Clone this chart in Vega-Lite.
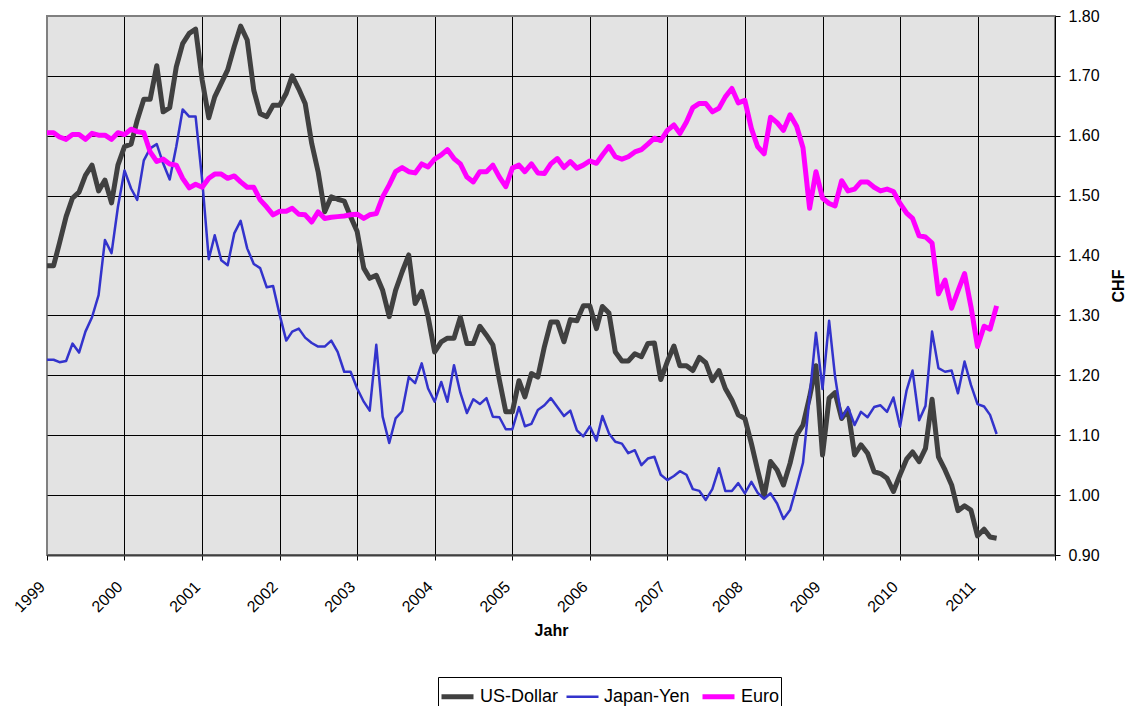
{
"$schema": "https://vega.github.io/schema/vega-lite/v6.json",
"width": 1008, "height": 539,
"autosize": {"type": "none"},
"padding": {"left": 47, "top": 16, "right": 75, "bottom": 151},
"background": "white",
"config": {"font": "Liberation Sans", "view": {"fill": "#E3E3E3", "stroke": "#808080", "strokeWidth": 2}},
"data": {"values": [
{"d":"1999-01-01","c":"US-Dollar","v":1.383},{"d":"1999-02-01","c":"US-Dollar","v":1.383},{"d":"1999-03-01","c":"US-Dollar","v":1.421},{"d":"1999-04-01","c":"US-Dollar","v":1.465},{"d":"1999-05-01","c":"US-Dollar","v":1.496},{"d":"1999-06-01","c":"US-Dollar","v":1.506},{"d":"1999-07-01","c":"US-Dollar","v":1.534},{"d":"1999-08-01","c":"US-Dollar","v":1.551},{"d":"1999-09-01","c":"US-Dollar","v":1.508},{"d":"1999-10-01","c":"US-Dollar","v":1.526},{"d":"1999-11-01","c":"US-Dollar","v":1.488},{"d":"1999-12-01","c":"US-Dollar","v":1.551},
{"d":"2000-01-01","c":"US-Dollar","v":1.582},{"d":"2000-02-01","c":"US-Dollar","v":1.586},{"d":"2000-03-01","c":"US-Dollar","v":1.626},{"d":"2000-04-01","c":"US-Dollar","v":1.661},{"d":"2000-05-01","c":"US-Dollar","v":1.661},{"d":"2000-06-01","c":"US-Dollar","v":1.717},{"d":"2000-07-01","c":"US-Dollar","v":1.640},{"d":"2000-08-01","c":"US-Dollar","v":1.647},{"d":"2000-09-01","c":"US-Dollar","v":1.715},{"d":"2000-10-01","c":"US-Dollar","v":1.754},{"d":"2000-11-01","c":"US-Dollar","v":1.771},{"d":"2000-12-01","c":"US-Dollar","v":1.778},
{"d":"2001-01-01","c":"US-Dollar","v":1.693},{"d":"2001-02-01","c":"US-Dollar","v":1.630},{"d":"2001-03-01","c":"US-Dollar","v":1.665},{"d":"2001-04-01","c":"US-Dollar","v":1.688},{"d":"2001-05-01","c":"US-Dollar","v":1.710},{"d":"2001-06-01","c":"US-Dollar","v":1.749},{"d":"2001-07-01","c":"US-Dollar","v":1.783},{"d":"2001-08-01","c":"US-Dollar","v":1.760},{"d":"2001-09-01","c":"US-Dollar","v":1.676},{"d":"2001-10-01","c":"US-Dollar","v":1.637},{"d":"2001-11-01","c":"US-Dollar","v":1.632},{"d":"2001-12-01","c":"US-Dollar","v":1.651},
{"d":"2002-01-01","c":"US-Dollar","v":1.651},{"d":"2002-02-01","c":"US-Dollar","v":1.671},{"d":"2002-03-01","c":"US-Dollar","v":1.700},{"d":"2002-04-01","c":"US-Dollar","v":1.678},{"d":"2002-05-01","c":"US-Dollar","v":1.654},{"d":"2002-06-01","c":"US-Dollar","v":1.587},{"d":"2002-07-01","c":"US-Dollar","v":1.540},{"d":"2002-08-01","c":"US-Dollar","v":1.473},{"d":"2002-09-01","c":"US-Dollar","v":1.498},{"d":"2002-10-01","c":"US-Dollar","v":1.494},{"d":"2002-11-01","c":"US-Dollar","v":1.491},{"d":"2002-12-01","c":"US-Dollar","v":1.465},
{"d":"2003-01-01","c":"US-Dollar","v":1.440},{"d":"2003-02-01","c":"US-Dollar","v":1.379},{"d":"2003-03-01","c":"US-Dollar","v":1.362},{"d":"2003-04-01","c":"US-Dollar","v":1.367},{"d":"2003-05-01","c":"US-Dollar","v":1.342},{"d":"2003-06-01","c":"US-Dollar","v":1.298},{"d":"2003-07-01","c":"US-Dollar","v":1.342},{"d":"2003-08-01","c":"US-Dollar","v":1.373},{"d":"2003-09-01","c":"US-Dollar","v":1.401},{"d":"2003-10-01","c":"US-Dollar","v":1.320},{"d":"2003-11-01","c":"US-Dollar","v":1.340},{"d":"2003-12-01","c":"US-Dollar","v":1.298},
{"d":"2004-01-01","c":"US-Dollar","v":1.239},{"d":"2004-02-01","c":"US-Dollar","v":1.256},{"d":"2004-03-01","c":"US-Dollar","v":1.262},{"d":"2004-04-01","c":"US-Dollar","v":1.262},{"d":"2004-05-01","c":"US-Dollar","v":1.297},{"d":"2004-06-01","c":"US-Dollar","v":1.253},{"d":"2004-07-01","c":"US-Dollar","v":1.253},{"d":"2004-08-01","c":"US-Dollar","v":1.282},{"d":"2004-09-01","c":"US-Dollar","v":1.267},{"d":"2004-10-01","c":"US-Dollar","v":1.251},{"d":"2004-11-01","c":"US-Dollar","v":1.192},{"d":"2004-12-01","c":"US-Dollar","v":1.139},
{"d":"2005-01-01","c":"US-Dollar","v":1.139},{"d":"2005-02-01","c":"US-Dollar","v":1.191},{"d":"2005-03-01","c":"US-Dollar","v":1.164},{"d":"2005-04-01","c":"US-Dollar","v":1.203},{"d":"2005-05-01","c":"US-Dollar","v":1.197},{"d":"2005-06-01","c":"US-Dollar","v":1.248},{"d":"2005-07-01","c":"US-Dollar","v":1.289},{"d":"2005-08-01","c":"US-Dollar","v":1.289},{"d":"2005-09-01","c":"US-Dollar","v":1.256},{"d":"2005-10-01","c":"US-Dollar","v":1.293},{"d":"2005-11-01","c":"US-Dollar","v":1.291},{"d":"2005-12-01","c":"US-Dollar","v":1.316},
{"d":"2006-01-01","c":"US-Dollar","v":1.316},{"d":"2006-02-01","c":"US-Dollar","v":1.278},{"d":"2006-03-01","c":"US-Dollar","v":1.315},{"d":"2006-04-01","c":"US-Dollar","v":1.304},{"d":"2006-05-01","c":"US-Dollar","v":1.239},{"d":"2006-06-01","c":"US-Dollar","v":1.224},{"d":"2006-07-01","c":"US-Dollar","v":1.224},{"d":"2006-08-01","c":"US-Dollar","v":1.236},{"d":"2006-09-01","c":"US-Dollar","v":1.231},{"d":"2006-10-01","c":"US-Dollar","v":1.253},{"d":"2006-11-01","c":"US-Dollar","v":1.254},{"d":"2006-12-01","c":"US-Dollar","v":1.193},
{"d":"2007-01-01","c":"US-Dollar","v":1.223},{"d":"2007-02-01","c":"US-Dollar","v":1.249},{"d":"2007-03-01","c":"US-Dollar","v":1.216},{"d":"2007-04-01","c":"US-Dollar","v":1.216},{"d":"2007-05-01","c":"US-Dollar","v":1.208},{"d":"2007-06-01","c":"US-Dollar","v":1.230},{"d":"2007-07-01","c":"US-Dollar","v":1.221},{"d":"2007-08-01","c":"US-Dollar","v":1.191},{"d":"2007-09-01","c":"US-Dollar","v":1.208},{"d":"2007-10-01","c":"US-Dollar","v":1.178},{"d":"2007-11-01","c":"US-Dollar","v":1.159},{"d":"2007-12-01","c":"US-Dollar","v":1.134},
{"d":"2008-01-01","c":"US-Dollar","v":1.128},{"d":"2008-02-01","c":"US-Dollar","v":1.086},{"d":"2008-03-01","c":"US-Dollar","v":1.042},{"d":"2008-04-01","c":"US-Dollar","v":0.998},{"d":"2008-05-01","c":"US-Dollar","v":1.056},{"d":"2008-06-01","c":"US-Dollar","v":1.042},{"d":"2008-07-01","c":"US-Dollar","v":1.017},{"d":"2008-08-01","c":"US-Dollar","v":1.053},{"d":"2008-09-01","c":"US-Dollar","v":1.100},{"d":"2008-10-01","c":"US-Dollar","v":1.117},{"d":"2008-11-01","c":"US-Dollar","v":1.164},{"d":"2008-12-01","c":"US-Dollar","v":1.216},
{"d":"2009-01-01","c":"US-Dollar","v":1.067},{"d":"2009-02-01","c":"US-Dollar","v":1.162},{"d":"2009-03-01","c":"US-Dollar","v":1.171},{"d":"2009-04-01","c":"US-Dollar","v":1.128},{"d":"2009-05-01","c":"US-Dollar","v":1.142},{"d":"2009-06-01","c":"US-Dollar","v":1.067},{"d":"2009-07-01","c":"US-Dollar","v":1.084},{"d":"2009-08-01","c":"US-Dollar","v":1.070},{"d":"2009-09-01","c":"US-Dollar","v":1.039},{"d":"2009-10-01","c":"US-Dollar","v":1.036},{"d":"2009-11-01","c":"US-Dollar","v":1.028},{"d":"2009-12-01","c":"US-Dollar","v":1.006},
{"d":"2010-01-01","c":"US-Dollar","v":1.034},{"d":"2010-02-01","c":"US-Dollar","v":1.060},{"d":"2010-03-01","c":"US-Dollar","v":1.072},{"d":"2010-04-01","c":"US-Dollar","v":1.056},{"d":"2010-05-01","c":"US-Dollar","v":1.078},{"d":"2010-06-01","c":"US-Dollar","v":1.160},{"d":"2010-07-01","c":"US-Dollar","v":1.064},{"d":"2010-08-01","c":"US-Dollar","v":1.042},{"d":"2010-09-01","c":"US-Dollar","v":1.017},{"d":"2010-10-01","c":"US-Dollar","v":0.974},{"d":"2010-11-01","c":"US-Dollar","v":0.982},{"d":"2010-12-01","c":"US-Dollar","v":0.975},
{"d":"2011-01-01","c":"US-Dollar","v":0.932},{"d":"2011-02-01","c":"US-Dollar","v":0.943},{"d":"2011-03-01","c":"US-Dollar","v":0.930},{"d":"2011-04-01","c":"US-Dollar","v":0.928},
{"d":"1999-01-01","c":"Japan-Yen","v":1.226},{"d":"1999-02-01","c":"Japan-Yen","v":1.226},{"d":"1999-03-01","c":"Japan-Yen","v":1.222},{"d":"1999-04-01","c":"Japan-Yen","v":1.224},{"d":"1999-05-01","c":"Japan-Yen","v":1.253},{"d":"1999-06-01","c":"Japan-Yen","v":1.238},{"d":"1999-07-01","c":"Japan-Yen","v":1.273},{"d":"1999-08-01","c":"Japan-Yen","v":1.297},{"d":"1999-09-01","c":"Japan-Yen","v":1.334},{"d":"1999-10-01","c":"Japan-Yen","v":1.426},{"d":"1999-11-01","c":"Japan-Yen","v":1.404},{"d":"1999-12-01","c":"Japan-Yen","v":1.481},
{"d":"2000-01-01","c":"Japan-Yen","v":1.542},{"d":"2000-02-01","c":"Japan-Yen","v":1.512},{"d":"2000-03-01","c":"Japan-Yen","v":1.493},{"d":"2000-04-01","c":"Japan-Yen","v":1.559},{"d":"2000-05-01","c":"Japan-Yen","v":1.579},{"d":"2000-06-01","c":"Japan-Yen","v":1.586},{"d":"2000-07-01","c":"Japan-Yen","v":1.554},{"d":"2000-08-01","c":"Japan-Yen","v":1.527},{"d":"2000-09-01","c":"Japan-Yen","v":1.582},{"d":"2000-10-01","c":"Japan-Yen","v":1.644},{"d":"2000-11-01","c":"Japan-Yen","v":1.632},{"d":"2000-12-01","c":"Japan-Yen","v":1.632},
{"d":"2001-01-01","c":"Japan-Yen","v":1.526},{"d":"2001-02-01","c":"Japan-Yen","v":1.394},{"d":"2001-03-01","c":"Japan-Yen","v":1.434},{"d":"2001-04-01","c":"Japan-Yen","v":1.392},{"d":"2001-05-01","c":"Japan-Yen","v":1.384},{"d":"2001-06-01","c":"Japan-Yen","v":1.437},{"d":"2001-07-01","c":"Japan-Yen","v":1.458},{"d":"2001-08-01","c":"Japan-Yen","v":1.412},{"d":"2001-09-01","c":"Japan-Yen","v":1.386},{"d":"2001-10-01","c":"Japan-Yen","v":1.379},{"d":"2001-11-01","c":"Japan-Yen","v":1.347},{"d":"2001-12-01","c":"Japan-Yen","v":1.349},
{"d":"2002-01-01","c":"Japan-Yen","v":1.301},{"d":"2002-02-01","c":"Japan-Yen","v":1.258},{"d":"2002-03-01","c":"Japan-Yen","v":1.273},{"d":"2002-04-01","c":"Japan-Yen","v":1.278},{"d":"2002-05-01","c":"Japan-Yen","v":1.263},{"d":"2002-06-01","c":"Japan-Yen","v":1.254},{"d":"2002-07-01","c":"Japan-Yen","v":1.248},{"d":"2002-08-01","c":"Japan-Yen","v":1.248},{"d":"2002-09-01","c":"Japan-Yen","v":1.258},{"d":"2002-10-01","c":"Japan-Yen","v":1.239},{"d":"2002-11-01","c":"Japan-Yen","v":1.206},{"d":"2002-12-01","c":"Japan-Yen","v":1.206},
{"d":"2003-01-01","c":"Japan-Yen","v":1.178},{"d":"2003-02-01","c":"Japan-Yen","v":1.156},{"d":"2003-03-01","c":"Japan-Yen","v":1.141},{"d":"2003-04-01","c":"Japan-Yen","v":1.251},{"d":"2003-05-01","c":"Japan-Yen","v":1.131},{"d":"2003-06-01","c":"Japan-Yen","v":1.087},{"d":"2003-07-01","c":"Japan-Yen","v":1.128},{"d":"2003-08-01","c":"Japan-Yen","v":1.140},{"d":"2003-09-01","c":"Japan-Yen","v":1.197},{"d":"2003-10-01","c":"Japan-Yen","v":1.187},{"d":"2003-11-01","c":"Japan-Yen","v":1.220},{"d":"2003-12-01","c":"Japan-Yen","v":1.178},
{"d":"2004-01-01","c":"Japan-Yen","v":1.156},{"d":"2004-02-01","c":"Japan-Yen","v":1.189},{"d":"2004-03-01","c":"Japan-Yen","v":1.156},{"d":"2004-04-01","c":"Japan-Yen","v":1.217},{"d":"2004-05-01","c":"Japan-Yen","v":1.171},{"d":"2004-06-01","c":"Japan-Yen","v":1.137},{"d":"2004-07-01","c":"Japan-Yen","v":1.160},{"d":"2004-08-01","c":"Japan-Yen","v":1.152},{"d":"2004-09-01","c":"Japan-Yen","v":1.162},{"d":"2004-10-01","c":"Japan-Yen","v":1.131},{"d":"2004-11-01","c":"Japan-Yen","v":1.130},{"d":"2004-12-01","c":"Japan-Yen","v":1.110},
{"d":"2005-01-01","c":"Japan-Yen","v":1.110},{"d":"2005-02-01","c":"Japan-Yen","v":1.147},{"d":"2005-03-01","c":"Japan-Yen","v":1.115},{"d":"2005-04-01","c":"Japan-Yen","v":1.119},{"d":"2005-05-01","c":"Japan-Yen","v":1.142},{"d":"2005-06-01","c":"Japan-Yen","v":1.150},{"d":"2005-07-01","c":"Japan-Yen","v":1.162},{"d":"2005-08-01","c":"Japan-Yen","v":1.147},{"d":"2005-09-01","c":"Japan-Yen","v":1.132},{"d":"2005-10-01","c":"Japan-Yen","v":1.141},{"d":"2005-11-01","c":"Japan-Yen","v":1.108},{"d":"2005-12-01","c":"Japan-Yen","v":1.098},
{"d":"2006-01-01","c":"Japan-Yen","v":1.115},{"d":"2006-02-01","c":"Japan-Yen","v":1.091},{"d":"2006-03-01","c":"Japan-Yen","v":1.132},{"d":"2006-04-01","c":"Japan-Yen","v":1.103},{"d":"2006-05-01","c":"Japan-Yen","v":1.089},{"d":"2006-06-01","c":"Japan-Yen","v":1.086},{"d":"2006-07-01","c":"Japan-Yen","v":1.070},{"d":"2006-08-01","c":"Japan-Yen","v":1.075},{"d":"2006-09-01","c":"Japan-Yen","v":1.050},{"d":"2006-10-01","c":"Japan-Yen","v":1.061},{"d":"2006-11-01","c":"Japan-Yen","v":1.064},{"d":"2006-12-01","c":"Japan-Yen","v":1.034},
{"d":"2007-01-01","c":"Japan-Yen","v":1.025},{"d":"2007-02-01","c":"Japan-Yen","v":1.032},{"d":"2007-03-01","c":"Japan-Yen","v":1.040},{"d":"2007-04-01","c":"Japan-Yen","v":1.034},{"d":"2007-05-01","c":"Japan-Yen","v":1.010},{"d":"2007-06-01","c":"Japan-Yen","v":1.007},{"d":"2007-07-01","c":"Japan-Yen","v":0.992},{"d":"2007-08-01","c":"Japan-Yen","v":1.010},{"d":"2007-09-01","c":"Japan-Yen","v":1.045},{"d":"2007-10-01","c":"Japan-Yen","v":1.007},{"d":"2007-11-01","c":"Japan-Yen","v":1.007},{"d":"2007-12-01","c":"Japan-Yen","v":1.020},
{"d":"2008-01-01","c":"Japan-Yen","v":1.003},{"d":"2008-02-01","c":"Japan-Yen","v":1.022},{"d":"2008-03-01","c":"Japan-Yen","v":1.004},{"d":"2008-04-01","c":"Japan-Yen","v":0.994},{"d":"2008-05-01","c":"Japan-Yen","v":1.003},{"d":"2008-06-01","c":"Japan-Yen","v":0.986},{"d":"2008-07-01","c":"Japan-Yen","v":0.960},{"d":"2008-08-01","c":"Japan-Yen","v":0.975},{"d":"2008-09-01","c":"Japan-Yen","v":1.014},{"d":"2008-10-01","c":"Japan-Yen","v":1.054},{"d":"2008-11-01","c":"Japan-Yen","v":1.164},{"d":"2008-12-01","c":"Japan-Yen","v":1.271},
{"d":"2009-01-01","c":"Japan-Yen","v":1.177},{"d":"2009-02-01","c":"Japan-Yen","v":1.291},{"d":"2009-03-01","c":"Japan-Yen","v":1.198},{"d":"2009-04-01","c":"Japan-Yen","v":1.128},{"d":"2009-05-01","c":"Japan-Yen","v":1.147},{"d":"2009-06-01","c":"Japan-Yen","v":1.117},{"d":"2009-07-01","c":"Japan-Yen","v":1.139},{"d":"2009-08-01","c":"Japan-Yen","v":1.130},{"d":"2009-09-01","c":"Japan-Yen","v":1.147},{"d":"2009-10-01","c":"Japan-Yen","v":1.150},{"d":"2009-11-01","c":"Japan-Yen","v":1.139},{"d":"2009-12-01","c":"Japan-Yen","v":1.163},
{"d":"2010-01-01","c":"Japan-Yen","v":1.114},{"d":"2010-02-01","c":"Japan-Yen","v":1.175},{"d":"2010-03-01","c":"Japan-Yen","v":1.208},{"d":"2010-04-01","c":"Japan-Yen","v":1.125},{"d":"2010-05-01","c":"Japan-Yen","v":1.149},{"d":"2010-06-01","c":"Japan-Yen","v":1.273},{"d":"2010-07-01","c":"Japan-Yen","v":1.212},{"d":"2010-08-01","c":"Japan-Yen","v":1.206},{"d":"2010-09-01","c":"Japan-Yen","v":1.208},{"d":"2010-10-01","c":"Japan-Yen","v":1.170},{"d":"2010-11-01","c":"Japan-Yen","v":1.223},{"d":"2010-12-01","c":"Japan-Yen","v":1.184},
{"d":"2011-01-01","c":"Japan-Yen","v":1.152},{"d":"2011-02-01","c":"Japan-Yen","v":1.148},{"d":"2011-03-01","c":"Japan-Yen","v":1.134},{"d":"2011-04-01","c":"Japan-Yen","v":1.102},
{"d":"1999-01-01","c":"Euro","v":1.605},{"d":"1999-02-01","c":"Euro","v":1.605},{"d":"1999-03-01","c":"Euro","v":1.598},{"d":"1999-04-01","c":"Euro","v":1.594},{"d":"1999-05-01","c":"Euro","v":1.602},{"d":"1999-06-01","c":"Euro","v":1.602},{"d":"1999-07-01","c":"Euro","v":1.594},{"d":"1999-08-01","c":"Euro","v":1.604},{"d":"1999-09-01","c":"Euro","v":1.601},{"d":"1999-10-01","c":"Euro","v":1.601},{"d":"1999-11-01","c":"Euro","v":1.594},{"d":"1999-12-01","c":"Euro","v":1.605},
{"d":"2000-01-01","c":"Euro","v":1.602},{"d":"2000-02-01","c":"Euro","v":1.611},{"d":"2000-03-01","c":"Euro","v":1.607},{"d":"2000-04-01","c":"Euro","v":1.605},{"d":"2000-05-01","c":"Euro","v":1.573},{"d":"2000-06-01","c":"Euro","v":1.557},{"d":"2000-07-01","c":"Euro","v":1.561},{"d":"2000-08-01","c":"Euro","v":1.553},{"d":"2000-09-01","c":"Euro","v":1.551},{"d":"2000-10-01","c":"Euro","v":1.529},{"d":"2000-11-01","c":"Euro","v":1.513},{"d":"2000-12-01","c":"Euro","v":1.519},
{"d":"2001-01-01","c":"Euro","v":1.514},{"d":"2001-02-01","c":"Euro","v":1.529},{"d":"2001-03-01","c":"Euro","v":1.536},{"d":"2001-04-01","c":"Euro","v":1.536},{"d":"2001-05-01","c":"Euro","v":1.529},{"d":"2001-06-01","c":"Euro","v":1.533},{"d":"2001-07-01","c":"Euro","v":1.523},{"d":"2001-08-01","c":"Euro","v":1.514},{"d":"2001-09-01","c":"Euro","v":1.514},{"d":"2001-10-01","c":"Euro","v":1.493},{"d":"2001-11-01","c":"Euro","v":1.481},{"d":"2001-12-01","c":"Euro","v":1.468},
{"d":"2002-01-01","c":"Euro","v":1.474},{"d":"2002-02-01","c":"Euro","v":1.474},{"d":"2002-03-01","c":"Euro","v":1.479},{"d":"2002-04-01","c":"Euro","v":1.469},{"d":"2002-05-01","c":"Euro","v":1.468},{"d":"2002-06-01","c":"Euro","v":1.456},{"d":"2002-07-01","c":"Euro","v":1.473},{"d":"2002-08-01","c":"Euro","v":1.462},{"d":"2002-09-01","c":"Euro","v":1.464},{"d":"2002-10-01","c":"Euro","v":1.465},{"d":"2002-11-01","c":"Euro","v":1.466},{"d":"2002-12-01","c":"Euro","v":1.468},
{"d":"2003-01-01","c":"Euro","v":1.469},{"d":"2003-02-01","c":"Euro","v":1.462},{"d":"2003-03-01","c":"Euro","v":1.468},{"d":"2003-04-01","c":"Euro","v":1.470},{"d":"2003-05-01","c":"Euro","v":1.498},{"d":"2003-06-01","c":"Euro","v":1.518},{"d":"2003-07-01","c":"Euro","v":1.540},{"d":"2003-08-01","c":"Euro","v":1.547},{"d":"2003-09-01","c":"Euro","v":1.540},{"d":"2003-10-01","c":"Euro","v":1.538},{"d":"2003-11-01","c":"Euro","v":1.553},{"d":"2003-12-01","c":"Euro","v":1.548},
{"d":"2004-01-01","c":"Euro","v":1.561},{"d":"2004-02-01","c":"Euro","v":1.568},{"d":"2004-03-01","c":"Euro","v":1.577},{"d":"2004-04-01","c":"Euro","v":1.562},{"d":"2004-05-01","c":"Euro","v":1.553},{"d":"2004-06-01","c":"Euro","v":1.531},{"d":"2004-07-01","c":"Euro","v":1.523},{"d":"2004-08-01","c":"Euro","v":1.540},{"d":"2004-09-01","c":"Euro","v":1.540},{"d":"2004-10-01","c":"Euro","v":1.551},{"d":"2004-11-01","c":"Euro","v":1.531},{"d":"2004-12-01","c":"Euro","v":1.515},
{"d":"2005-01-01","c":"Euro","v":1.546},{"d":"2005-02-01","c":"Euro","v":1.551},{"d":"2005-03-01","c":"Euro","v":1.540},{"d":"2005-04-01","c":"Euro","v":1.553},{"d":"2005-05-01","c":"Euro","v":1.538},{"d":"2005-06-01","c":"Euro","v":1.537},{"d":"2005-07-01","c":"Euro","v":1.553},{"d":"2005-08-01","c":"Euro","v":1.562},{"d":"2005-09-01","c":"Euro","v":1.547},{"d":"2005-10-01","c":"Euro","v":1.557},{"d":"2005-11-01","c":"Euro","v":1.546},{"d":"2005-12-01","c":"Euro","v":1.551},
{"d":"2006-01-01","c":"Euro","v":1.558},{"d":"2006-02-01","c":"Euro","v":1.554},{"d":"2006-03-01","c":"Euro","v":1.568},{"d":"2006-04-01","c":"Euro","v":1.582},{"d":"2006-05-01","c":"Euro","v":1.565},{"d":"2006-06-01","c":"Euro","v":1.561},{"d":"2006-07-01","c":"Euro","v":1.565},{"d":"2006-08-01","c":"Euro","v":1.573},{"d":"2006-09-01","c":"Euro","v":1.577},{"d":"2006-10-01","c":"Euro","v":1.586},{"d":"2006-11-01","c":"Euro","v":1.596},{"d":"2006-12-01","c":"Euro","v":1.592},
{"d":"2007-01-01","c":"Euro","v":1.609},{"d":"2007-02-01","c":"Euro","v":1.618},{"d":"2007-03-01","c":"Euro","v":1.604},{"d":"2007-04-01","c":"Euro","v":1.623},{"d":"2007-05-01","c":"Euro","v":1.647},{"d":"2007-06-01","c":"Euro","v":1.654},{"d":"2007-07-01","c":"Euro","v":1.654},{"d":"2007-08-01","c":"Euro","v":1.640},{"d":"2007-09-01","c":"Euro","v":1.646},{"d":"2007-10-01","c":"Euro","v":1.665},{"d":"2007-11-01","c":"Euro","v":1.679},{"d":"2007-12-01","c":"Euro","v":1.655},
{"d":"2008-01-01","c":"Euro","v":1.659},{"d":"2008-02-01","c":"Euro","v":1.612},{"d":"2008-03-01","c":"Euro","v":1.582},{"d":"2008-04-01","c":"Euro","v":1.570},{"d":"2008-05-01","c":"Euro","v":1.631},{"d":"2008-06-01","c":"Euro","v":1.622},{"d":"2008-07-01","c":"Euro","v":1.609},{"d":"2008-08-01","c":"Euro","v":1.635},{"d":"2008-09-01","c":"Euro","v":1.616},{"d":"2008-10-01","c":"Euro","v":1.580},{"d":"2008-11-01","c":"Euro","v":1.479},{"d":"2008-12-01","c":"Euro","v":1.540},
{"d":"2009-01-01","c":"Euro","v":1.496},{"d":"2009-02-01","c":"Euro","v":1.487},{"d":"2009-03-01","c":"Euro","v":1.483},{"d":"2009-04-01","c":"Euro","v":1.525},{"d":"2009-05-01","c":"Euro","v":1.508},{"d":"2009-06-01","c":"Euro","v":1.511},{"d":"2009-07-01","c":"Euro","v":1.523},{"d":"2009-08-01","c":"Euro","v":1.523},{"d":"2009-09-01","c":"Euro","v":1.514},{"d":"2009-10-01","c":"Euro","v":1.508},{"d":"2009-11-01","c":"Euro","v":1.511},{"d":"2009-12-01","c":"Euro","v":1.507},
{"d":"2010-01-01","c":"Euro","v":1.487},{"d":"2010-02-01","c":"Euro","v":1.471},{"d":"2010-03-01","c":"Euro","v":1.462},{"d":"2010-04-01","c":"Euro","v":1.433},{"d":"2010-05-01","c":"Euro","v":1.431},{"d":"2010-06-01","c":"Euro","v":1.421},{"d":"2010-07-01","c":"Euro","v":1.336},{"d":"2010-08-01","c":"Euro","v":1.359},{"d":"2010-09-01","c":"Euro","v":1.312},{"d":"2010-10-01","c":"Euro","v":1.341},{"d":"2010-11-01","c":"Euro","v":1.370},{"d":"2010-12-01","c":"Euro","v":1.315},
{"d":"2011-01-01","c":"Euro","v":1.248},{"d":"2011-02-01","c":"Euro","v":1.282},{"d":"2011-03-01","c":"Euro","v":1.277},{"d":"2011-04-01","c":"Euro","v":1.316}
]},
"mark": {"type": "line", "strokeJoin": "round", "clip": true},
"encoding": {
  "x": {"field": "d", "type": "temporal",
    "scale": {"type": "utc", "domain": [{"year": 1999, "month": 1, "date": 1, "utc": true}, {"year": 2012, "month": 1, "date": 1, "utc": true}]},
    "axis": {"title": "Jahr", "tickCount": {"interval": "year", "step": 1},
      "labelExpr": "utcyear(datum.value) >= 2012 ? '' : utcFormat(datum.value, '%Y')",
      "labelAngle": -45, "labelAlign": "right", "labelBaseline": "middle", "labelFlush": false, "labelOverlap": false,
      "labelFontSize": 16, "labelColor": "black", "labelPadding": 24, "labelOffset": -5,
      "tickColor": "black", "tickSize": 5, "domainColor": "#404040", "domainWidth": 2,
      "grid": true, "gridColor": {"condition": {"test": "utcyear(datum.value) == 1999", "value": "#808080"}, "value": "black"}, "gridWidth": 1, "gridOpacity": 1,
      "titleFontSize": 16, "titleFontWeight": "bold", "titleColor": "black", "titlePadding": 8}},
  "y": {"field": "v", "type": "quantitative",
    "scale": {"domain": [0.9, 1.8], "nice": false, "zero": false},
    "axis": {"orient": "right", "title": "CHF", "values": [0.9, 1.0, 1.1, 1.2, 1.3, 1.4, 1.5, 1.6, 1.7, 1.8], "format": ".2f",
      "labelFontSize": 16, "labelColor": "black", "labelPadding": 8,
      "tickColor": "black", "tickSize": 5, "domainColor": "black", "domainWidth": 1,
      "grid": true, "gridColor": {"condition": {"test": "datum.value >= 1.79", "value": "#808080"}, "value": "black"}, "gridWidth": 1, "gridOpacity": 1,
      "titleFontSize": 16, "titleFontWeight": "bold", "titleColor": "black", "titleAngle": 270, "titlePadding": 27}},
  "color": {"field": "c", "type": "nominal",
    "scale": {"domain": ["US-Dollar", "Japan-Yen", "Euro"], "range": ["#404040", "#3333CC", "#FF00FF"]},
    "legend": {"orient": "none", "legendX": 391, "legendY": 661, "direction": "horizontal", "title": null,
      "symbolType": "stroke", "symbolSize": 1024, "labelFontSize": 18, "labelColor": "black",
      "strokeColor": "black", "fillColor": "white", "padding": 1, "columnPadding": 2, "labelOffset": 4}},
  "strokeWidth": {"field": "c", "type": "nominal",
    "scale": {"type": "ordinal", "domain": ["US-Dollar", "Japan-Yen", "Euro"], "range": [5, 2.5, 5]},
    "legend": {"orient": "none", "legendX": 391, "legendY": 661, "direction": "horizontal", "title": null,
      "symbolType": "stroke", "symbolSize": 1024, "labelFontSize": 18, "labelColor": "black",
      "strokeColor": "black", "fillColor": "white", "padding": 1, "columnPadding": 2, "labelOffset": 4}}
}
}
